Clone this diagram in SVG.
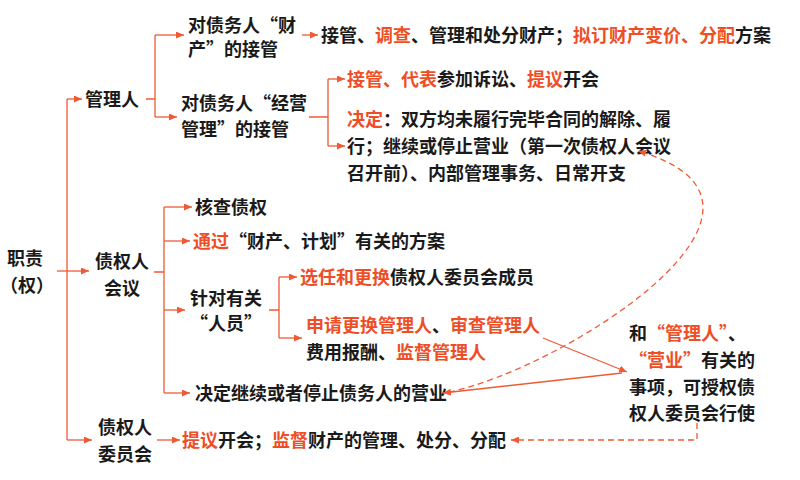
<svg xmlns="http://www.w3.org/2000/svg" width="800" height="480" viewBox="0 0 800 480">
<defs>
<marker id="ah" markerUnits="userSpaceOnUse" markerWidth="8" markerHeight="7" refX="8" refY="3.5" orient="auto">
<path d="M0,0 L8,3.5 L0,7 z" fill="#EF5A35"/>
</marker>
<style>
text{font-family:"Noto Sans CJK SC","Noto Sans",sans-serif;font-size:18px;font-weight:bold;fill:#1a1a1a}
.r{fill:#EE4E26}
.c{text-anchor:middle}
.ln{fill:none;stroke:#EF5A35;stroke-width:1.3}
.ar{marker-end:url(#ah)}
.d{stroke-dasharray:6,4}
</style>
</defs>
<rect width="800" height="480" fill="#fff"/>
<g id="root">
<text class="c" x="25" y="264.5">职责</text>
<text x="0" y="291.5">（权）</text>
</g>
<g id="manager">
<text x="85" y="105.5">管理人</text>
</g>
<g id="property-takeover">
<text x="188" y="31.5">对债务人“财</text>
<text x="188" y="55.5">产”的接管</text>
</g>
<g id="business-takeover">
<text x="181" y="109.5">对债务人“经营</text>
<text x="181" y="135.5">管理”的接管</text>
</g>
<g id="property-duties">
<text x="321" y="41.5">接管、<tspan class="r">调查</tspan>、管理和处分财产；<tspan class="r">拟订财产变价、分配</tspan>方案</text>
</g>
<g id="business-duties-1">
<text x="347" y="85.5"><tspan class="r">接管、代表</tspan>参加诉讼、<tspan class="r">提议</tspan>开会</text>
</g>
<g id="business-duties-2">
<text x="347" y="125.5"><tspan class="r">决定</tspan>：双方均未履行完毕合同的解除、履</text>
<text x="347" y="152.5">行；继续或停止营业（第一次债权人会议</text>
<text x="347" y="179.5">召开前）、内部管理事务、日常开支</text>
</g>
<g id="creditors-meeting">
<text class="c" x="122" y="267.5">债权人</text>
<text class="c" x="122" y="294.5">会议</text>
</g>
<g id="verify-claims">
<text x="195" y="213.5">核查债权</text>
</g>
<g id="pass-plans">
<text x="193" y="247.5"><tspan class="r">通过</tspan>“财产、计划”有关的方案</text>
</g>
<g id="personnel">
<text class="c" x="226" y="304.5">针对有关</text>
<text class="c" x="226" y="329.5">“人员”</text>
</g>
<g id="elect-committee">
<text x="300" y="283.5"><tspan class="r">选任和更换</tspan>债权人委员会成员</text>
</g>
<g id="manager-control">
<text x="306" y="331.5"><tspan class="r">申请更换管理人</tspan>、<tspan class="r">审查管理人</tspan></text>
<text x="306" y="358.5">费用报酬、<tspan class="r">监督管理人</tspan></text>
</g>
<g id="continue-business">
<text x="195" y="399.5">决定继续或者停止债务人的营业</text>
</g>
<g id="committee">
<text class="c" x="125" y="433.5">债权人</text>
<text class="c" x="125" y="460.5">委员会</text>
</g>
<g id="committee-duties">
<text x="182" y="446.5"><tspan class="r">提议</tspan>开会；<tspan class="r">监督</tspan>财产的管理、处分、分配</text>
</g>
<g id="authorize-note">
<text x="629" y="339.5">和<tspan class="r">“管理人”</tspan>、</text>
<text x="629" y="366.5"><tspan class="r">“营业”</tspan>有关的</text>
<text x="629" y="393.5">事项，可授权债</text>
<text x="629" y="419.5">权人委员会行使</text>
</g>
<g id="connectors">
<path class="ln ar" d="M57,271 H89"/>
<path class="ln" d="M67,99 V440"/>
<path class="ln ar" d="M67,99 H82"/>
<path class="ln ar" d="M67,440 H92"/>
<path class="ln" d="M146,99 H155 M155,35 V117"/>
<path class="ln ar" d="M155,35 H184"/>
<path class="ln ar" d="M155,117 H177"/>
<path class="ln ar" d="M302,35 H318"/>
<path class="ln" d="M309,117 H328 M328,79 V146"/>
<path class="ln ar" d="M328,79 H345"/>
<path class="ln ar" d="M328,146 H345"/>
<path class="ln" d="M154,272 H164 M164,207 V393"/>
<path class="ln ar" d="M164,207 H192"/>
<path class="ln ar" d="M164,241 H190"/>
<path class="ln ar" d="M164,310 H185"/>
<path class="ln ar" d="M164,393 H190"/>
<path class="ln" d="M269,310 H279 M279,277 V338"/>
<path class="ln ar" d="M279,277 H297"/>
<path class="ln ar" d="M279,338 H302"/>
<path class="ln ar" d="M157,440 H180"/>
<path class="ln ar" d="M543,338 L627,372"/>
<path class="ln ar" d="M622,373 L443,393"/>
<path class="ln ar d" d="M449,392 C560,370 825,205 638,151"/>
<path class="ln ar d" d="M697,423 V440 H511"/>
</g>
</svg>
